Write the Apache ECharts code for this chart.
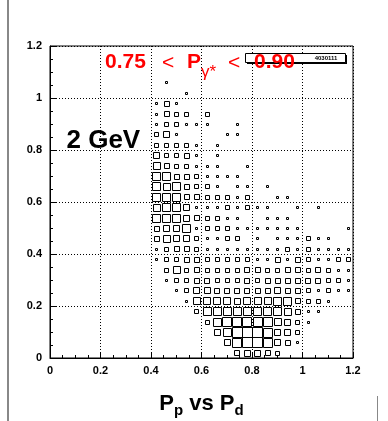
<!DOCTYPE html>
<html><head><meta charset="utf-8">
<script src="https://cdn.jsdelivr.net/npm/echarts@6/dist/echarts.min.js"></script>
<style>html,body{margin:0;padding:0;background:#fff}#c{width:388px;height:421px}</style>
</head><body><div id="c"></div>
<script>
// bin centres (bin width 0.04 in both directions)
const xCenters = [0.42,0.46,0.50,0.54,0.58,0.62,0.66,0.70,0.74,0.78,0.82,0.86,0.90,0.94,0.98,1.02,1.06,1.10,1.14,1.18];
const yCenters = [1.06,1.02,0.98,0.94,0.90,0.86,0.82,0.78,0.74,0.70,0.66,0.62,0.58,0.54,0.50,0.46,0.42,0.38,0.34,0.30,0.26,0.22,0.18,0.14,0.10,0.06,0.02];
// bin contents, one row per yCenters entry, columns follow xCenters
const counts = [
 [0,1,0,0,0,0,0,0,0,0,0,0,0,0,0,0,0,0,0,0],
 [0,0,0,1,0,0,0,0,0,0,0,0,0,0,0,0,0,0,0,0],
 [2,9,1,0,0,0,0,0,0,0,0,0,0,0,0,0,0,0,0,0],
 [1,9,7,7,0,7,0,0,0,0,0,0,0,0,0,0,0,0,0,0],
 [2,7,7,1,1,1,0,0,2,0,0,0,0,0,0,0,0,0,0,0],
 [7,14,1,0,0,0,0,1,2,0,0,0,0,0,0,0,0,0,0,0],
 [7,7,7,7,1,0,1,0,0,0,0,0,0,0,0,0,0,0,0,0],
 [14,7,7,9,1,0,1,0,0,0,0,0,0,0,0,0,0,0,0,0],
 [19,9,7,7,1,1,1,0,0,1,0,0,0,0,0,0,0,0,0,0],
 [25,25,11,9,7,1,2,1,1,0,0,0,0,0,0,0,0,0,0,0],
 [25,19,25,9,7,7,1,0,1,1,0,2,0,0,0,0,0,0,0,0],
 [29,29,25,11,11,7,7,6,1,7,0,0,1,1,0,0,0,0,0,0],
 [22,25,29,14,1,1,1,6,1,7,1,1,0,0,2,0,1,0,0,0],
 [25,25,25,14,9,7,6,1,1,0,0,1,1,1,0,0,0,0,0,0],
 [9,14,14,25,1,7,7,7,1,1,1,1,1,1,1,0,0,0,0,1],
 [9,22,14,14,6,1,1,7,7,0,1,0,1,1,1,7,1,1,0,0],
 [2,7,11,11,7,1,1,1,1,1,1,1,2,7,2,6,1,1,1,1],
 [1,7,7,9,11,7,7,7,7,7,1,1,9,2,11,7,2,1,7,6],
 [0,6,22,7,9,7,6,7,7,9,9,6,7,9,9,7,9,6,1,1],
 [0,1,7,7,11,11,7,7,7,9,7,11,9,9,9,9,11,7,7,1],
 [0,0,1,7,14,14,11,11,11,11,11,11,16,11,11,7,2,6,1,1],
 [0,0,0,2,22,22,22,22,14,19,19,19,25,25,11,6,6,1,0,0],
 [0,0,0,0,7,25,25,29,25,25,29,25,25,22,9,1,1,0,0,0],
 [0,0,0,0,0,7,25,33,33,36,36,33,19,14,7,1,0,0,0,0],
 [0,0,0,0,0,0,14,25,41,45,45,33,16,14,7,0,0,0,0,0],
 [0,0,0,0,0,0,0,14,33,45,45,33,16,9,1,0,0,0,0,0],
 [0,0,0,0,0,0,0,0,9,16,14,9,6,0,0,0,0,0,0,0]
];
const binW = 0.04, binH = 0.04;
const axisTicks = [0,0.2,0.4,0.6,0.8,1,1.2];

const data = [];
let maxC = 0;
counts.forEach((row, j) => row.forEach((c, i) => {
  if (c > 0) { data.push([xCenters[i], yCenters[j], c]); if (c > maxC) maxC = c; }
}));

const FONT = '"Liberation Sans", Arial, Helvetica, sans-serif';
const chart = echarts.init(document.getElementById('c'), null, {renderer:'canvas'});
const axisCommon = {
  type: 'value', min: axisTicks[0], max: axisTicks[axisTicks.length-1], interval: 0.2,
  axisLine: { show: true, onZero: false, lineStyle: { color: '#000', width: 1 } },
  axisTick: { show: true, inside: true, length: 6, lineStyle: { color: '#000' } },
  minorTick: { show: true, splitNumber: 4, length: 3, lineStyle: { color: '#000' } },
  splitLine: { show: true, lineStyle: { color: '#000', width: 1, type: [1, 2] } },
  axisLabel: { color: '#000', fontFamily: FONT, fontWeight: 'bold', fontSize: 11, formatter: v => String(+v.toFixed(2)) }
};
chart.setOption({
  animation: false,
  backgroundColor: '#fff',
  grid: { left: 50, right: 35, top: 46, bottom: 63, show: true, borderColor: '#000', borderWidth: 1, backgroundColor: 'transparent' },
  xAxis: Object.assign({}, axisCommon, { axisLabel: Object.assign({}, axisCommon.axisLabel, { margin: 7 }) }),
  yAxis: Object.assign({}, axisCommon, { axisLabel: Object.assign({}, axisCommon.axisLabel, { margin: 8 }) }),
  series: [{
    type: 'custom',
    data: data,
    clip: true,
    renderItem: function (params, api) {
      const c = api.coord([api.value(0), api.value(1)]);
      const s = api.size([binW, binH]);
      const f = Math.sqrt(api.value(2) / maxC);
      const w = Math.max(1, Math.round(s[0] * f)), h = Math.max(1, Math.round(s[1] * f));
      const x0 = Math.round(c[0] - w / 2) + 0.5, y0 = Math.round(c[1] - h / 2) + 0.5;
      return { type: 'rect', shape: { x: x0, y: y0, width: w, height: h },
        style: { fill: 'none', stroke: '#000', lineWidth: 1 } };
    }
  }],
  graphic: [
    { type: 'line', shape: { x1: 8, y1: 0, x2: 8, y2: 421 }, style: { stroke: '#888', lineWidth: 2 }, z: 100 },
    { type: 'line', shape: { x1: 377.5, y1: 396, x2: 377.5, y2: 421 }, style: { stroke: '#888', lineWidth: 1 }, z: 100 },
    { type: 'rect', shape: { x: 247, y: 55, width: 100, height: 9 }, style: { fill: '#000' }, z: 100 },
    { type: 'rect', shape: { x: 245.5, y: 53.5, width: 100, height: 9 }, style: { fill: '#fff', stroke: '#000', lineWidth: 1 }, z: 101 },
    { type: 'text', x: 326, y: 58, style: { text: '4030111', font: 'bold 6px ' + FONT, fill: '#000', align: 'center', verticalAlign: 'middle' }, z: 102 },
    { type: 'text', x: 105, y: 62.5, style: { text: '0.75', font: 'bold 21px ' + FONT, fill: '#f00', align: 'left', verticalAlign: 'middle' }, z: 110 },
    { type: 'text', x: 162, y: 63.5, style: { text: '<', font: '21px ' + FONT, fill: '#f00', align: 'left', verticalAlign: 'middle' }, z: 110 },
    { type: 'text', x: 187, y: 62.5, style: { text: 'P', font: 'bold 21px ' + FONT, fill: '#f00', align: 'left', verticalAlign: 'middle' }, z: 110 },
    { type: 'text', x: 201, y: 72, style: { text: 'γ*', font: '17px ' + FONT, fill: '#f00', align: 'left', verticalAlign: 'middle' }, z: 110 },
    { type: 'text', x: 228, y: 63.5, style: { text: '<', font: '21px ' + FONT, fill: '#f00', align: 'left', verticalAlign: 'middle' }, z: 110 },
    { type: 'text', x: 254, y: 62.5, style: { text: '0.90', font: 'bold 21px ' + FONT, fill: '#f00', align: 'left', verticalAlign: 'middle' }, z: 110 },
    { type: 'text', x: 66.5, y: 140.5, style: { text: '2 GeV', font: 'bold 26px ' + FONT, fill: '#000', align: 'left', verticalAlign: 'middle' }, z: 110 },
    { type: 'text', x: 201.5, y: 404, style: {
        text: '{a|P}{s|p}{a| vs P}{s|d}', align: 'center', verticalAlign: 'middle',
        rich: {
          a: { font: 'bold 22px ' + FONT, fill: '#000', lineHeight: 22, verticalAlign: 'top' },
          s: { font: 'bold 15px ' + FONT, fill: '#000', lineHeight: 15, padding: [10, 0, 0, 0], verticalAlign: 'top' }
        } }, z: 110 }
  ]
});
</script></body></html>
